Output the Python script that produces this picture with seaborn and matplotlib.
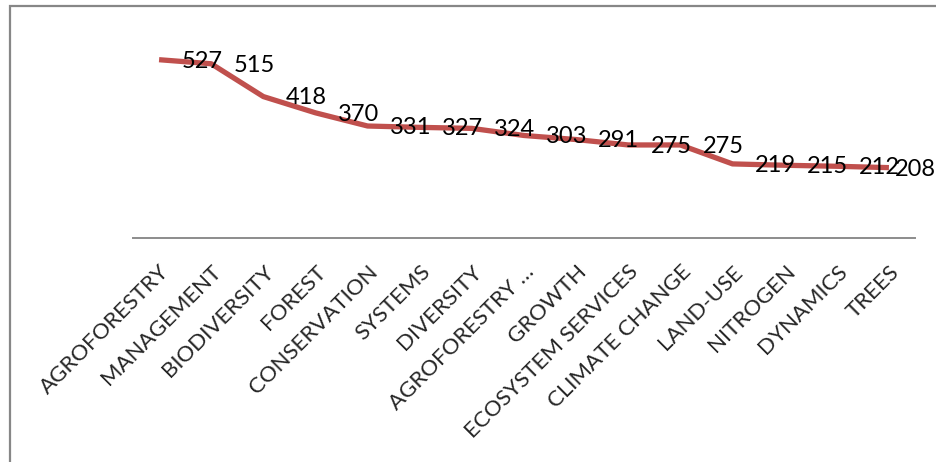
import matplotlib
matplotlib.use("Agg")
import matplotlib.pyplot as plt
import seaborn as sns
import pandas as pd
from matplotlib.patches import Rectangle

# keywords and occurrence counts
keywords = ["AGROFORESTRY", "MANAGEMENT", "BIODIVERSITY", "FOREST", "CONSERVATION",
            "SYSTEMS", "DIVERSITY", "AGROFORESTRY …", "GROWTH", "ECOSYSTEM SERVICES",
            "CLIMATE CHANGE", "LAND-USE", "NITROGEN", "DYNAMICS", "TREES"]
counts = [527, 515, 418, 370, 331, 327, 324, 303, 291, 275, 275, 219, 215, 212, 208]

df = pd.DataFrame({"keyword": keywords, "count": counts})
df["pos"] = range(len(df))

sns.set_style("white")
plt.rcParams["font.family"] = ["Lato", "DejaVu Sans"]

fig = plt.figure(figsize=(9.37, 4.62), dpi=100)
ax = fig.add_axes([133 / 937, 1 - 238 / 462, (915 - 133) / 937, (238 - 35) / 462])

sns.lineplot(data=df, x="pos", y="count", ax=ax, color="#C0504D", linewidth=3.8,
             solid_capstyle="butt")

# value labels to the right of each point (last one pulled in to stay inside)
for p, v in zip(df["pos"], df["count"]):
    dx = 4 if p == len(df) - 1 else 16
    ax.annotate(str(v), (p, v), xytext=(dx, -1), textcoords="offset points",
                ha="left", va="center", fontsize=17, color="black",
                annotation_clip=False)

ax.set_xlim(-0.5, len(df) - 0.5)
ax.set_ylim(0, 600)
ax.set_xticks(df["pos"])
ax.set_xticklabels(df["keyword"], rotation=45, ha="right", va="top",
                   rotation_mode="anchor", fontsize=16)
ax.tick_params(axis="x", length=0, pad=17)
ax.set_yticks([])
ax.set_xlabel("")
ax.set_ylabel("")
for s in ["top", "right", "left"]:
    ax.spines[s].set_visible(False)
ax.spines["bottom"].set_color("#8C8C8C")
ax.spines["bottom"].set_linewidth(1.4)

# chart area border
fig.patches.append(Rectangle((10 / 937, -0.05), 1.2, 1.05 - 6 / 462,
                             transform=fig.transFigure, fill=False,
                             edgecolor="#878787", linewidth=1.6))

fig.savefig("out.png", dpi=100)
